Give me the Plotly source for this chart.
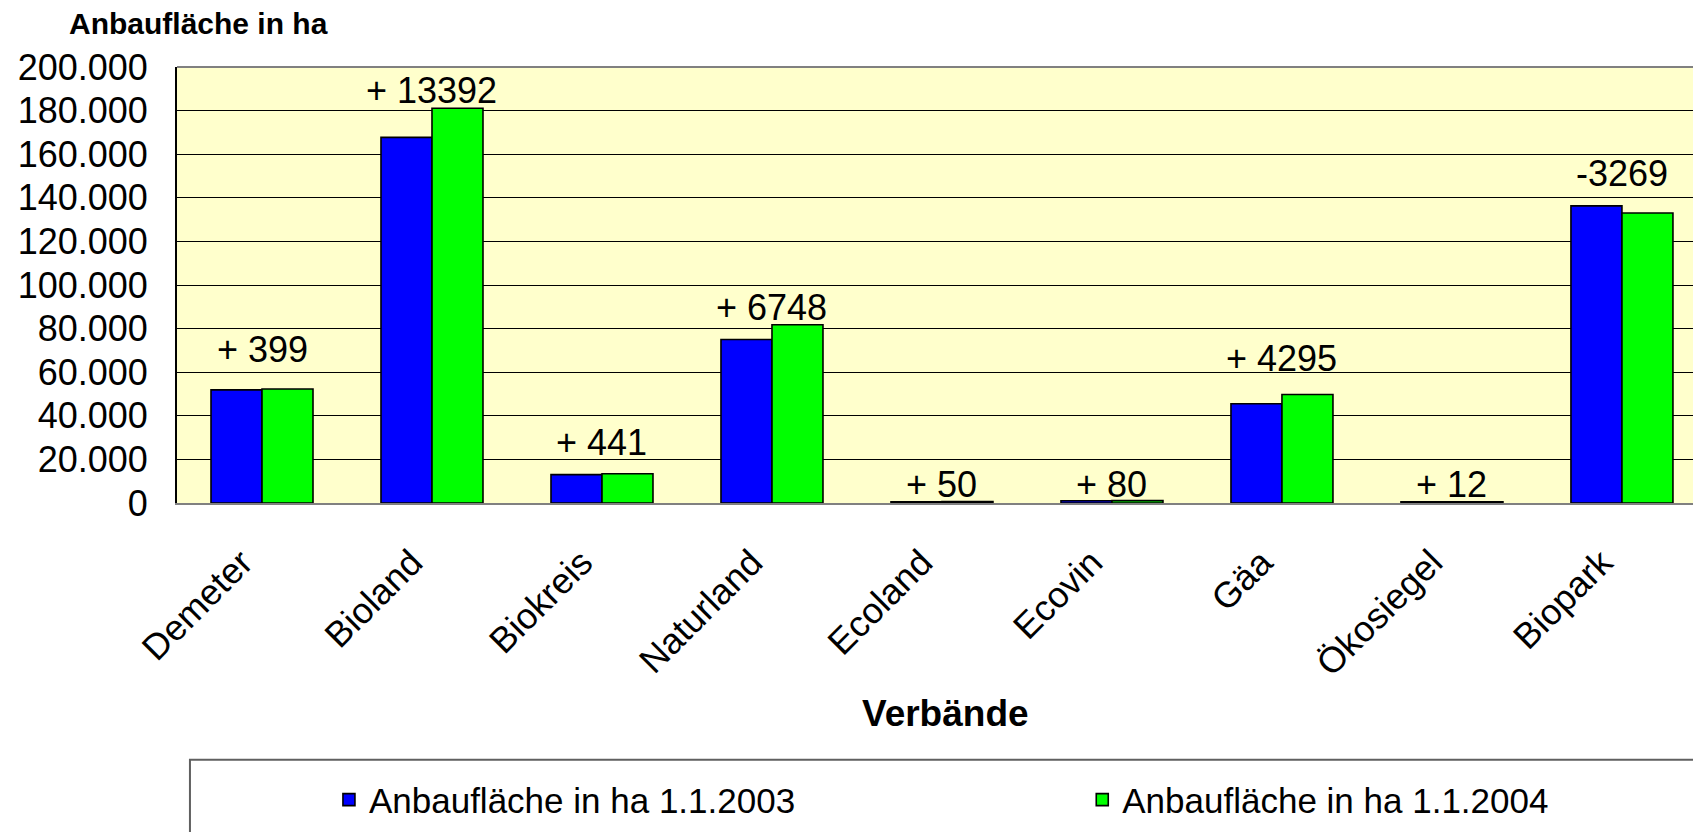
import plotly.graph_objects as go

categories = ["Demeter", "Bioland", "Biokreis", "Naturland", "Ecoland", "Ecovin", "Gäa", "Ökosiegel", "Biopark"]
area_2003 = [51900, 167700, 13000, 75000, 600, 1000, 45500, 500, 136300]
area_2004 = [52299, 181092, 13441, 81748, 650, 1080, 49795, 512, 133031]
series_names = ["Anbaufläche in ha 1.1.2003", "Anbaufläche in ha 1.1.2004"]
y_ticks = [0, 20000, 40000, 60000, 80000, 100000, 120000, 140000, 160000, 180000, 200000]
# vertical placement of the change labels (data units)
label_y = [70200, 189400, 27700, 89900, 8700, 8700, 66100, 8700, 151000]

FONT = "Arial, Liberation Sans, sans-serif"


def change_label(a, b):
    d = b - a
    return f"+ {d}" if d >= 0 else f"-{abs(d)}"


fig = go.Figure()
fig.add_trace(go.Bar(x=categories, y=area_2003, name=series_names[0], legend="legend",
                     marker=dict(color="#0000FF", line=dict(color="black", width=1.6))))
fig.add_trace(go.Bar(x=categories, y=area_2004, name=series_names[1], legend="legend2",
                     marker=dict(color="#00FF00", line=dict(color="black", width=1.6))))

annotations = []
for c, a, b, ly in zip(categories, area_2003, area_2004, label_y):
    annotations.append(dict(x=c, y=ly, xref="x", yref="y", text=change_label(a, b),
                            showarrow=False, font=dict(family=FONT, size=36, color="black"),
                            xanchor="center", yanchor="middle"))

annotations.append(dict(x=-0.0722, y=1.10, xref="paper", yref="paper", text="<b>Anbaufläche in ha</b>",
                        showarrow=False, xanchor="left", yanchor="middle",
                        font=dict(family=FONT, size=30, color="black")))
annotations.append(dict(x=0.504, y=-0.482, xref="paper", yref="paper", text="<b>Verbände</b>",
                        showarrow=False, xanchor="center", yanchor="middle",
                        font=dict(family=FONT, size=37, color="black")))

shapes = [
    dict(type="line", xref="paper", yref="paper", x0=0, x1=1, y0=1, y1=1,
         line=dict(color="#808080", width=2)),
    dict(type="rect", xref="paper", yref="paper", x0=0.0085, x1=0.998, y0=-0.589, y1=-0.9,
         line=dict(color="#606060", width=2), fillcolor="rgba(0,0,0,0)"),
]

legend_common = dict(orientation="h", y=-0.681, xanchor="left", yanchor="middle",
                     font=dict(family=FONT, size=35, color="black"),
                     bgcolor="rgba(0,0,0,0)")

# page body has an 8px default margin; figure offset compensated
fig.update_layout(
    width=1693, height=824,
    margin=dict(l=169, r=0, t=59, b=329, autoexpand=False),
    paper_bgcolor="white",
    plot_bgcolor="#FFFFCC",
    barmode="group",
    bargap=0.4,
    bargroupgap=0,
    separators=",.",
    font=dict(family=FONT, color="black"),
    annotations=annotations,
    shapes=shapes,
    showlegend=True,
    legend=dict(x=0.0997, **legend_common),
    legend2=dict(x=0.594, **legend_common),
)

fig.update_xaxes(
    type="category",
    range=[-0.5, 8.465],
    tickangle=-45,
    tickfont=dict(family=FONT, size=36, color="black"),
    showline=True, linecolor="#808080", linewidth=2,
    showgrid=False, ticks="", automargin=False,
    ticklabelshift=-20, ticklabelstandoff=22,
)
fig.update_yaxes(
    range=[0, 200000],
    tickvals=y_ticks,
    tickformat=",d",
    tickfont=dict(family=FONT, size=36, color="black"),
    showgrid=True, gridcolor="black", gridwidth=1,
    showline=True, linecolor="black", linewidth=2,
    ticks="", ticklabelstandoff=20, automargin=False,
    zeroline=False,
)

fig.write_html("out.html")
